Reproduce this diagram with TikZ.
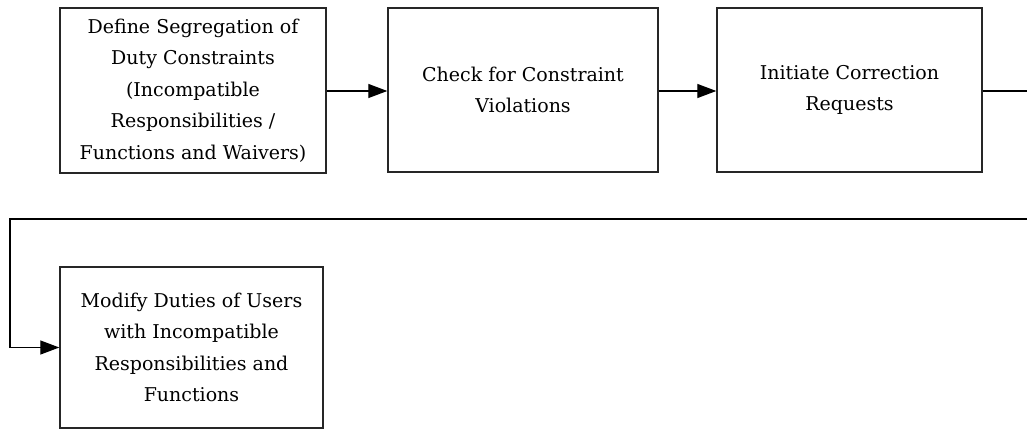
\documentclass[tikz,border=0pt]{standalone}
\usepackage{fontspec}
\setmainfont{DejaVu Serif}
\usetikzlibrary{arrows.meta}
\begin{document}
\begin{tikzpicture}[x=1pt,y=-1pt,
  stepbox/.style={draw=black!85, line width=1.4pt, fill=white, inner sep=0pt,
    align=center, font=\fontsize{19}{31.5}\selectfont},
  flow/.style={draw=black, line width=1.3pt, -{Triangle[length=19pt,width=14pt]}}]
  \useasboundingbox (0,0) rectangle (1027,430);
  \clip (0,0) rectangle (1027,430);
  % process steps
  \node[stepbox, minimum width=266pt, minimum height=165pt] (define) at (193,90.5)
    {Define Segregation of\\Duty Constraints\\(Incompatible\\Responsibilities /\\Functions and Waivers)};
  \node[stepbox, minimum width=270pt, minimum height=164pt] (check) at (523,90)
    {Check for Constraint\\Violations};
  \node[stepbox, minimum width=265pt, minimum height=164pt] (initiate) at (849.5,90)
    {Initiate Correction\\Requests};
  \node[stepbox, minimum width=263pt, minimum height=161pt] (modify) at (191.5,347.5)
    {Modify Duties of Users\\with Incompatible\\Responsibilities and\\Functions};
  % route from the last step of the first row back to the second row
  \coordinate (farright) at (1045,91);
  \coordinate (farrightlow) at (1045,219);
  \coordinate (leftlow) at (10,219);
  \coordinate (leftin) at (10,347.5);
  % connectors
  \draw[flow] (define.east |- 0,91) -- (check.west |- 0,91);
  \draw[flow] (check.east |- 0,91) -- (initiate.west |- 0,91);
  \draw[flow] (initiate.east |- 0,91) -- (farright) -- (farrightlow) -- (leftlow) -- (leftin) -- (modify.west);
\end{tikzpicture}
\end{document}
